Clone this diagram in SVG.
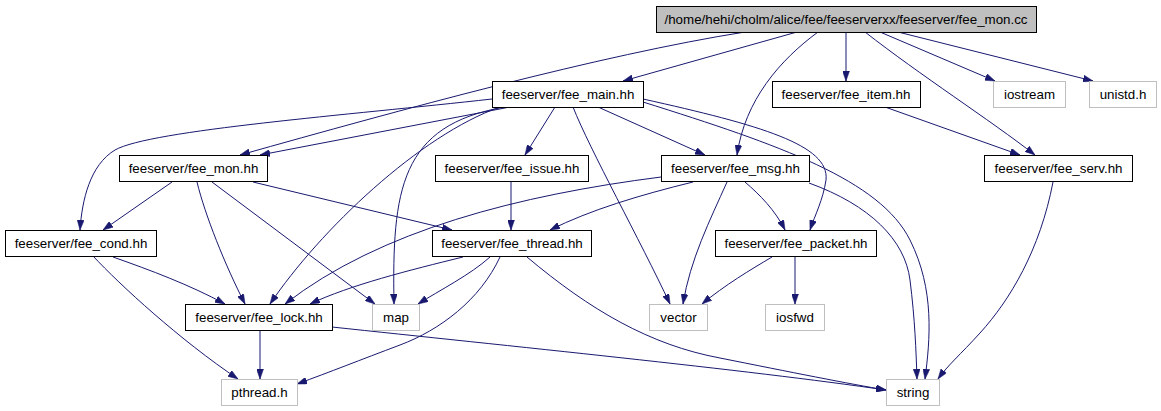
<svg xmlns="http://www.w3.org/2000/svg" width="1161" height="411" viewBox="0 0 1161 411">
<style>
.n rect{fill:#ffffff;stroke:#000000;stroke-width:1}
.x rect{fill:#ffffff;stroke:#bfbfbf;stroke-width:1}
.r rect{fill:#bfbfbf;stroke:#000000;stroke-width:1}
text{font-family:"Liberation Sans",Arial,sans-serif;font-size:13.33px;fill:#000000;text-anchor:middle}
#edges path{fill:none;stroke:#191970;stroke-width:1;marker-end:url(#arr)}
</style>
<defs>
<marker id="arr" viewBox="0 0 10 7" refX="10" refY="3.5" markerWidth="10" markerHeight="7" markerUnits="userSpaceOnUse" orient="auto">
<path d="M0,0 L10,3.5 L0,7 Z" fill="#191970" stroke="#191970" stroke-width="0.5"/>
</marker>
</defs>
<rect x="0" y="0" width="1161" height="411" fill="#ffffff"/>
<g id="edges">
<path d="M797,32 L623,81"/>
<path d="M745,32 C600,55 400,110 240,155"/>
<path d="M818,32 C780,60 745,100 737,155"/>
<path d="M846,32 L846,81"/>
<path d="M865,32 C920,75 990,120 1035,155"/>
<path d="M880,32 L995,81"/>
<path d="M898,32 L1093,81"/>
<path d="M492,99 C350,115 150,130 115,150 C90,165 82,200 80,230"/>
<path d="M510,107 L260,155"/>
<path d="M500,107 C420,135 320,230 270,304"/>
<path d="M505,107 C400,125 392,190 394,304"/>
<path d="M555,107 L525,155"/>
<path d="M573,107 C590,150 640,240 670,304"/>
<path d="M598,107 L705,155"/>
<path d="M643,99 C760,125 830,145 826,180 C823,200 815,215 810,230"/>
<path d="M643,102 C780,145 880,180 910,240 C935,290 930,340 925,379"/>
<path d="M809,183 C870,205 905,240 910,280 C915,320 916,350 917,379"/>
<path d="M1053,182 C1040,250 1010,300 980,333 C960,355 948,365 938,379"/>
<path d="M885,107 L1020,155"/>
<path d="M172,182 L103,230"/>
<path d="M197,182 C205,215 225,265 245,304"/>
<path d="M212,182 L375,304"/>
<path d="M253,182 L452,230"/>
<path d="M113,257 C150,270 190,285 225,304"/>
<path d="M93,256 C120,285 180,340 238,379"/>
<path d="M511,182 L511,230"/>
<path d="M693,182 C640,195 590,210 550,230"/>
<path d="M661,177 C520,195 380,230 285,304"/>
<path d="M727,182 C710,220 690,260 683,304"/>
<path d="M745,182 C760,195 775,210 785,230"/>
<path d="M772,257 C750,270 725,285 702,304"/>
<path d="M795,257 L795,304"/>
<path d="M463,257 C410,270 350,285 310,304"/>
<path d="M490,257 C470,275 440,290 418,304"/>
<path d="M500,257 C480,300 440,330 400,345 C360,360 330,372 297,384"/>
<path d="M527,257 C590,310 650,345 720,358 C790,372 850,384 886,390"/>
<path d="M332,327 C500,345 750,370 886,390"/>
<path d="M260,331 L260,379"/>
</g>
<g id="fee_mon_cc" class="r"><rect x="656.5" y="6.5" width="380" height="26"/><text x="846" y="24">/home/hehi/cholm/alice/fee/feeserverxx/feeserver/fee_mon.cc</text></g>
<g id="fee_main_hh" class="n"><rect x="492.5" y="81.5" width="151" height="26"/><text x="568" y="99">feeserver/fee_main.hh</text></g>
<g id="fee_item_hh" class="n"><rect x="772.5" y="81.5" width="148" height="26"/><text x="846" y="99">feeserver/fee_item.hh</text></g>
<g id="iostream" class="x"><rect x="993.5" y="81.5" width="72" height="26"/><text x="1029.5" y="99">iostream</text></g>
<g id="unistd_h" class="x"><rect x="1089.5" y="81.5" width="67" height="26"/><text x="1123" y="99">unistd.h</text></g>
<g id="fee_mon_hh" class="n"><rect x="119.5" y="155.5" width="148" height="26"/><text x="193.5" y="173">feeserver/fee_mon.hh</text></g>
<g id="fee_issue_hh" class="n"><rect x="435.5" y="155.5" width="153" height="26"/><text x="512" y="173">feeserver/fee_issue.hh</text></g>
<g id="fee_msg_hh" class="n"><rect x="661.5" y="155.5" width="148" height="26"/><text x="735.5" y="173">feeserver/fee_msg.hh</text></g>
<g id="fee_serv_hh" class="n"><rect x="984.5" y="155.5" width="148" height="26"/><text x="1058.5" y="173">feeserver/fee_serv.hh</text></g>
<g id="fee_cond_hh" class="n"><rect x="5.5" y="230.5" width="151" height="26"/><text x="81" y="248">feeserver/fee_cond.hh</text></g>
<g id="fee_thread_hh" class="n"><rect x="432.5" y="230.5" width="159" height="26"/><text x="512" y="248">feeserver/fee_thread.hh</text></g>
<g id="fee_packet_hh" class="n"><rect x="715.5" y="230.5" width="161" height="26"/><text x="796" y="248">feeserver/fee_packet.hh</text></g>
<g id="fee_lock_hh" class="n"><rect x="185.5" y="304.5" width="147" height="26"/><text x="259" y="322">feeserver/fee_lock.hh</text></g>
<g id="map" class="x"><rect x="372.5" y="304.5" width="47" height="26"/><text x="396" y="322">map</text></g>
<g id="vector" class="x"><rect x="649.5" y="304.5" width="58" height="26"/><text x="678.5" y="322">vector</text></g>
<g id="iosfwd" class="x"><rect x="765.5" y="304.5" width="59" height="26"/><text x="795" y="322">iosfwd</text></g>
<g id="pthread_h" class="x"><rect x="221.5" y="379.5" width="76" height="26"/><text x="259.5" y="397">pthread.h</text></g>
<g id="string" class="x"><rect x="886.5" y="379.5" width="53" height="26"/><text x="913" y="397">string</text></g>
</svg>
